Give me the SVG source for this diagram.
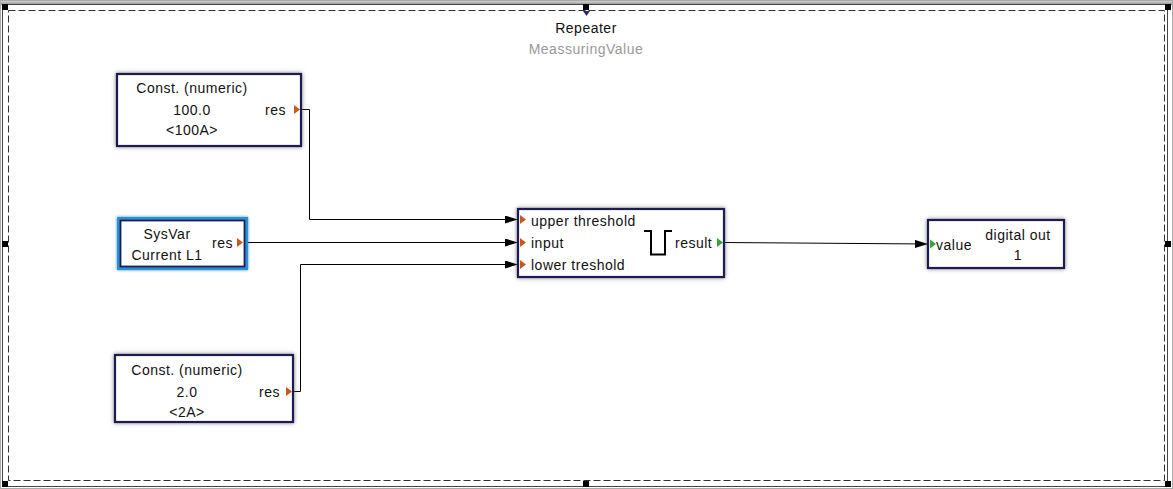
<svg xmlns="http://www.w3.org/2000/svg" width="1173" height="489" viewBox="0 0 1173 489">
<style>
text{font-family:"Liberation Sans",Arial,sans-serif;font-size:14px;letter-spacing:0.5px;fill:#111}
.c{text-anchor:middle}
.box{fill:#fff;stroke:#1d1d55;stroke-width:2.2;filter:url(#sh)}
.pin{fill:#c8581c}
.pout{fill:#3aa23a}
.wire{fill:none;stroke:#000;stroke-width:1}
.hd{fill:#000}
</style>
<defs>
<filter id="sh" x="-20%" y="-30%" width="140%" height="160%">
<feDropShadow dx="0" dy="0" stdDeviation="2.2" flood-color="#666" flood-opacity="0.8"/>
</filter>
<filter id="glow" x="-20%" y="-30%" width="140%" height="160%">
<feDropShadow dx="0" dy="0" stdDeviation="1.5" flood-color="#1c7fc0" flood-opacity="0.9"/>
</filter>
<linearGradient id="tb" x1="0" y1="0" x2="0" y2="1">
<stop offset="0" stop-color="#e4e4e4"/>
<stop offset="1" stop-color="#8a8a8a"/>
</linearGradient>
<marker id="arr" markerWidth="14" markerHeight="10" refX="13" refY="4" orient="auto" markerUnits="userSpaceOnUse">
<path d="M0,0 L13,4 L0,8 Z" fill="#000"/>
</marker>
</defs>

<g id="frame">
<rect x="0" y="0" width="1173" height="489" fill="#fff"/>
<rect x="0" y="0" width="1173" height="5" fill="url(#tb)"/>
<rect x="0.5" y="0.5" width="1172" height="488" fill="none" stroke="#aaa"/>
<rect x="2.5" y="4.5" width="1165" height="482" fill="none" stroke="#444"/>
<rect x="8.5" y="10.5" width="1156" height="470" fill="none" stroke="#333" stroke-dasharray="7,3"/>
<rect x="2" y="4" width="6" height="6" class="hd"/>
<rect x="1165" y="4" width="6" height="6" class="hd"/>
<rect x="2" y="481" width="6" height="6" class="hd"/>
<rect x="1165" y="481" width="6" height="6" class="hd"/>
<rect x="583" y="4" width="6" height="6" class="hd"/>
<path d="M583,11 L590,11 L586.5,16 Z" fill="#2a2a70"/>
<rect x="583" y="481" width="6" height="6" class="hd"/>
<rect x="2" y="241" width="6" height="6" class="hd"/>
<rect x="1165" y="241" width="6" height="6" class="hd"/>
<text x="586" y="33" class="c">Repeater</text>
<text x="586" y="54" class="c" style="fill:#999">MeassuringValue</text>
</g>

<g id="connectors">
<path class="wire" d="M300,109.5 H309.5 V219.5 H518" marker-end="url(#arr)"/>
<path class="wire" d="M243,242.5 H518" marker-end="url(#arr)"/>
<path class="wire" d="M292,391.5 H300.5 V264.5 H518" marker-end="url(#arr)"/>
<path class="wire" d="M723,242.5 L928,244" marker-end="url(#arr)"/>
</g>

<g id="const100">
<rect class="box" x="117" y="74" width="184" height="72"/>
<text x="192" y="93" class="c">Const. (numeric)</text>
<text x="192" y="115" class="c">100.0</text>
<text x="192" y="135" class="c">&lt;100A&gt;</text>
<text x="265" y="115">res</text>
<path class="pin" d="M294,105 L300,109.5 L294,114 Z"/>
</g>

<g id="sysvar">
<rect x="119" y="219" width="127" height="49" fill="#fff" stroke="#2a90d0" stroke-width="4" filter="url(#glow)"/>
<rect x="120.5" y="220.5" width="124" height="46" fill="none" stroke="#1d1d55" stroke-width="1.8"/>
<text x="167" y="239" class="c">SysVar</text>
<text x="167" y="260" class="c">Current L1</text>
<text x="212" y="248">res</text>
<path class="pin" d="M237,238 L243,242.5 L237,247 Z"/>
</g>

<g id="const2">
<rect class="box" x="115" y="355" width="178" height="67"/>
<text x="187" y="375" class="c">Const. (numeric)</text>
<text x="187" y="397" class="c">2.0</text>
<text x="187" y="417" class="c">&lt;2A&gt;</text>
<text x="259" y="397">res</text>
<path class="pin" d="M286,387 L292,391.5 L286,396 Z"/>
</g>

<g id="threshold">
<rect class="box" x="518" y="209" width="206" height="68"/>
<path class="pin" d="M520,215 L526,219.5 L520,224 Z"/>
<path class="pin" d="M520,238 L526,242.5 L520,247 Z"/>
<path class="pin" d="M520,260 L526,264.5 L520,269 Z"/>
<text x="531" y="226">upper threshold</text>
<text x="531" y="248">input</text>
<text x="531" y="270">lower treshold</text>
<path d="M644,231 H651 V254.5 H665 V231 H672" fill="none" stroke="#000" stroke-width="2"/>
<text x="675" y="248">result</text>
<path class="pout" d="M717,238 L723,242.5 L717,247 Z"/>
</g>

<g id="digitalout">
<rect class="box" x="928" y="220" width="136" height="48"/>
<path class="pout" d="M930,239.5 L936,244 L930,248.5 Z"/>
<text x="936" y="250">value</text>
<text x="1018" y="240" class="c">digital out</text>
<text x="1018" y="260" class="c">1</text>
</g>
</svg>
